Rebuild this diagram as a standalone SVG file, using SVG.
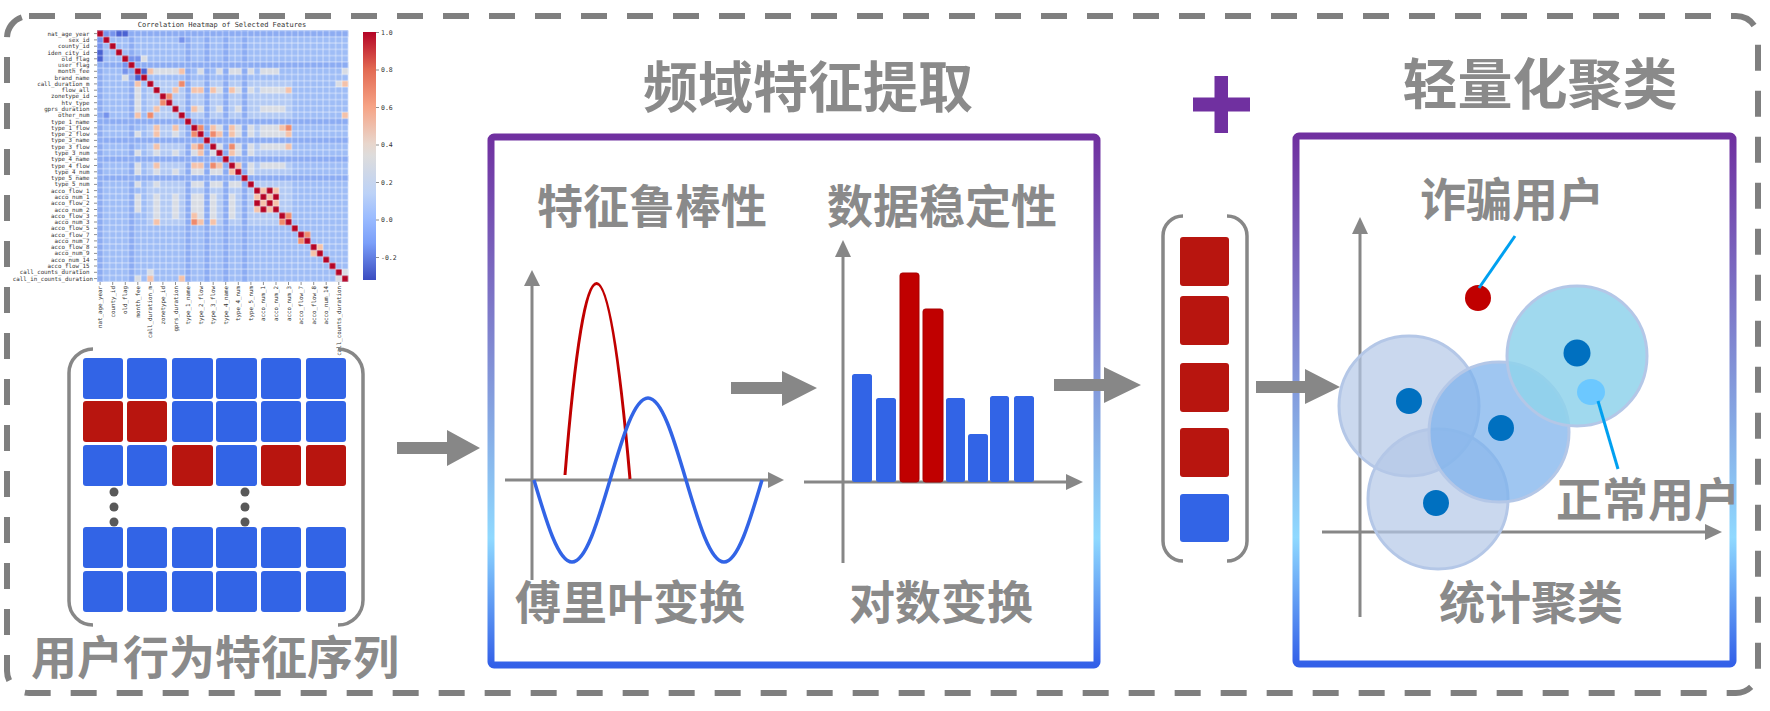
<svg xmlns="http://www.w3.org/2000/svg" xmlns:xlink="http://www.w3.org/1999/xlink" width="1770" height="711" viewBox="0 0 1770 711">
<defs>
<style>
.cjk{font-family:"Noto Sans CJK SC","Noto Sans",sans-serif;font-weight:bold;fill:#8A8A8A;text-anchor:middle}
.h55{font-size:55px}
.h46{font-size:46px}
.mono{font-family:"DejaVu Sans Mono","Liberation Mono",monospace;fill:#333}
.gray{fill:#878787}
.axis{stroke:#878787;stroke-width:3;fill:none}
.blue{fill:#3264E6}
.red{fill:#B8150F}
.box{fill:none;stroke:url(#boxg);stroke-width:7}
.brk{fill:none;stroke:#878787;stroke-width:3.5}
.lead{stroke:#00A0F0;stroke-width:3;fill:none}
.cl{stroke:#B4C7E7;stroke-width:3}
.dot{fill:#0070C0}
</style>
<linearGradient id="boxg" x1="0" y1="0" x2="0" y2="1">
<stop offset="0" stop-color="#7030A0"/>
<stop offset="0.76" stop-color="#8FD9FF"/>
<stop offset="1" stop-color="#3360E8"/>
</linearGradient>
<linearGradient id="cbg" x1="0" y1="0" x2="0" y2="1">
<stop offset="0" stop-color="#B40426"/>
<stop offset="0.15" stop-color="#E26952"/>
<stop offset="0.3" stop-color="#F6A385"/>
<stop offset="0.45" stop-color="#E8D6CC"/>
<stop offset="0.5" stop-color="#DDDCDC"/>
<stop offset="0.65" stop-color="#BCD2F7"/>
<stop offset="0.75" stop-color="#9ABBFF"/>
<stop offset="0.85" stop-color="#7B9FF9"/>
<stop offset="1" stop-color="#3B4CC0"/>
</linearGradient>
<pattern id="hmgrid" width="1" height="1" patternUnits="userSpaceOnUse">
<rect width="1" height="1" fill="none" stroke="#ffffff" stroke-opacity="0.8" stroke-width="0.1"/>
</pattern>
<g id="hmU">
<path fill="#D8DCE4" d="M7 4h1v1h-1z M9 6h4v1h-4z M16 6h1v1h-1z M19 6h1v1h-1z M21 6h2v1h-2z M24 6h1v1h-1z M26 6h3v1h-3z M39 6h1v1h-1z M38 8h1v1h-1z M19 9h1v1h-1z M22 9h1v1h-1z M24 9h1v1h-1z M26 9h4v1h-4z M16 12h1v1h-1z M19 12h1v1h-1z M22 12h1v1h-1z M26 12h4v1h-4z M19 15h1v1h-1z M22 15h1v1h-1z M24 15h1v1h-1z M26 15h3v1h-3z M22 16h1v1h-1z M24 16h1v1h-1z M26 16h4v1h-4z M19 18h1v1h-1z M22 18h1v1h-1z M24 18h1v1h-1z M26 18h4v1h-4z M22 19h1v1h-1z M24 19h1v1h-1z M24 21h1v1h-1z M26 21h4v1h-4z M24 22h1v1h-1z M38 39h1v1h-1z"/>
<path fill="#F4C2AA" d="M8 6h1v1h-1z M13 6h1v1h-1z M39 8h1v1h-1z M12 9h1v1h-1z M15 9h2v1h-2z M18 9h1v1h-1z M21 9h1v1h-1z M30 9h1v1h-1z M15 12h1v1h-1z M39 13h1v1h-1z M18 15h1v1h-1z M21 15h1v1h-1z M29 15h1v1h-1z M21 16h1v1h-1z M19 16h1v1h-1z M30 16h1v1h-1z M30 18h1v1h-1z M21 19h1v1h-1z M22 21h1v1h-1z M26 25h1v1h-1z M28 25h1v1h-1z M27 26h1v1h-1z M28 27h1v1h-1z M35 34h1v1h-1z"/>
<path fill="#EE8A6C" d="M13 8h1v1h-1z M11 10h1v1h-1z M16 15h1v1h-1z M18 16h1v1h-1z M21 18h1v1h-1z M30 15h1v1h-1z M30 29h1v1h-1z M33 32h1v1h-1z"/>
<path fill="#B40426" d="M27 25h1v1h-1z M28 26h1v1h-1z"/>
<path fill="#4A62D2" d="M3 0h2v1h-2z M7 6h1v1h-1z"/>
<path fill="#7693EC" d="M1 0h2v1h-2z M5 4h2v1h-2z M13 1h1v1h-1z"/>
</g>
</defs>
<rect width="1770" height="711" fill="#ffffff"/>

<!-- outer dashed frame -->
<rect x="7" y="16" width="1751" height="677" rx="22" fill="none" stroke="#7F7F7F" stroke-width="6" stroke-dasharray="26 20"/>

<!-- heatmap -->
<g id="heatmap">
<text class="mono" x="222" y="27" font-size="7" text-anchor="middle">Correlation Heatmap of Selected Features</text>
<g transform="translate(97,30.5) scale(6.28)">
<rect width="40" height="40" fill="#9FBDF6"/>
<rect x="0" y="0" width="1" height="40" fill="#8DACF2"/>
<rect x="0" y="0" width="40" height="1" fill="#8DACF2"/>
<rect x="8" y="8" width="23" height="23" fill="#B3CAF4"/>
<path fill="#8CACF3" d="M0 5h40v1h-40z M0 14h40v1h-40z M0 17h40v1h-40z M0 20h40v1h-40z M0 23h40v1h-40z M5 0h1v40h-1z M14 0h1v40h-1z M17 0h1v40h-1z M20 0h1v40h-1z M23 0h1v40h-1z"/>
<use xlink:href="#hmU"/>
<use xlink:href="#hmU" transform="matrix(0 1 1 0 0 0)"/>
<path fill="#B40426" d="M0 0h1v1h-1z M1 1h1v1h-1z M2 2h1v1h-1z M3 3h1v1h-1z M4 4h1v1h-1z M5 5h1v1h-1z M6 6h1v1h-1z M7 7h1v1h-1z M8 8h1v1h-1z M9 9h1v1h-1z M10 10h1v1h-1z M11 11h1v1h-1z M12 12h1v1h-1z M13 13h1v1h-1z M14 14h1v1h-1z M15 15h1v1h-1z M16 16h1v1h-1z M17 17h1v1h-1z M18 18h1v1h-1z M19 19h1v1h-1z M20 20h1v1h-1z M21 21h1v1h-1z M22 22h1v1h-1z M23 23h1v1h-1z M24 24h1v1h-1z M25 25h1v1h-1z M26 26h1v1h-1z M27 27h1v1h-1z M28 28h1v1h-1z M29 29h1v1h-1z M30 30h1v1h-1z M31 31h1v1h-1z M32 32h1v1h-1z M33 33h1v1h-1z M34 34h1v1h-1z M35 35h1v1h-1z M36 36h1v1h-1z M37 37h1v1h-1z M38 38h1v1h-1z M39 39h1v1h-1z"/>
<rect width="40" height="40" fill="url(#hmgrid)"/>
</g>
<path stroke="#444" stroke-width="0.6" d="M94 33.6h3M94 39.9h3M94 46.2h3M94 52.5h3M94 58.8h3M94 65h3M94 71.3h3M94 77.6h3M94 83.9h3M94 90.2h3M94 96.4h3M94 102.7h3M94 109h3M94 115.3h3M94 121.6h3M94 127.8h3M94 134.1h3M94 140.4h3M94 146.7h3M94 153h3M94 159.2h3M94 165.5h3M94 171.8h3M94 178.1h3M94 184.4h3M94 190.6h3M94 196.9h3M94 203.2h3M94 209.5h3M94 215.8h3M94 222h3M94 228.3h3M94 234.6h3M94 240.9h3M94 247.2h3M94 253.4h3M94 259.7h3M94 266h3M94 272.3h3M94 278.6h3"/>
<text class="mono" font-size="5.8" text-anchor="end">
<tspan x="93" y="35.6">nat_age_year</tspan>
<tspan x="93" y="41.9">sex_id</tspan>
<tspan x="93" y="48.2">county_id</tspan>
<tspan x="93" y="54.5">iden_city_id</tspan>
<tspan x="93" y="60.8">old_flag</tspan>
<tspan x="93" y="67.0">user_flag</tspan>
<tspan x="93" y="73.3">month_fee</tspan>
<tspan x="93" y="79.6">brand_name</tspan>
<tspan x="93" y="85.9">call_duration_m</tspan>
<tspan x="93" y="92.2">flow_all</tspan>
<tspan x="93" y="98.4">zonetype_id</tspan>
<tspan x="93" y="104.7">htv_type</tspan>
<tspan x="93" y="111.0">gprs_duration</tspan>
<tspan x="93" y="117.3">other_num</tspan>
<tspan x="93" y="123.6">type_1_name</tspan>
<tspan x="93" y="129.8">type_1_flow</tspan>
<tspan x="93" y="136.1">type_2_flow</tspan>
<tspan x="93" y="142.4">type_3_name</tspan>
<tspan x="93" y="148.7">type_3_flow</tspan>
<tspan x="93" y="155.0">type_3_num</tspan>
<tspan x="93" y="161.2">type_4_name</tspan>
<tspan x="93" y="167.5">type_4_flow</tspan>
<tspan x="93" y="173.8">type_4_num</tspan>
<tspan x="93" y="180.1">type_5_name</tspan>
<tspan x="93" y="186.4">type_5_num</tspan>
<tspan x="93" y="192.6">acco_flow_1</tspan>
<tspan x="93" y="198.9">acco_num_1</tspan>
<tspan x="93" y="205.2">acco_flow_2</tspan>
<tspan x="93" y="211.5">acco_num_2</tspan>
<tspan x="93" y="217.8">acco_flow_3</tspan>
<tspan x="93" y="224.0">acco_num_3</tspan>
<tspan x="93" y="230.3">acco_flow_5</tspan>
<tspan x="93" y="236.6">acco_flow_7</tspan>
<tspan x="93" y="242.9">acco_num_7</tspan>
<tspan x="93" y="249.2">acco_flow_8</tspan>
<tspan x="93" y="255.4">acco_num_9</tspan>
<tspan x="93" y="261.7">acco_num_14</tspan>
<tspan x="93" y="268.0">acco_flow_15</tspan>
<tspan x="93" y="274.3">call_counts_duration</tspan>
<tspan x="93" y="280.6">call_in_counts_duration</tspan>
</text>
<path stroke="#444" stroke-width="0.6" d="M100.1 282v3M112.7 282v3M125.3 282v3M137.8 282v3M150.4 282v3M162.9 282v3M175.5 282v3M188.1 282v3M200.6 282v3M213.2 282v3M225.7 282v3M238.3 282v3M250.9 282v3M263.4 282v3M276 282v3M288.5 282v3M301.1 282v3M313.7 282v3M326.2 282v3M338.8 282v3"/>
<g class="mono" font-size="5.8" text-anchor="end">
<text transform="translate(102.1,286) rotate(-90)">nat_age_year</text>
<text transform="translate(114.7,286) rotate(-90)">county_id</text>
<text transform="translate(127.3,286) rotate(-90)">old_flag</text>
<text transform="translate(139.8,286) rotate(-90)">month_fee</text>
<text transform="translate(152.4,286) rotate(-90)">call_duration_m</text>
<text transform="translate(164.9,286) rotate(-90)">zonetype_id</text>
<text transform="translate(177.5,286) rotate(-90)">gprs_duration</text>
<text transform="translate(190.1,286) rotate(-90)">type_1_name</text>
<text transform="translate(202.6,286) rotate(-90)">type_2_flow</text>
<text transform="translate(215.2,286) rotate(-90)">type_3_flow</text>
<text transform="translate(227.7,286) rotate(-90)">type_4_name</text>
<text transform="translate(240.3,286) rotate(-90)">type_4_num</text>
<text transform="translate(252.9,286) rotate(-90)">type_5_num</text>
<text transform="translate(265.4,286) rotate(-90)">acco_num_1</text>
<text transform="translate(278,286) rotate(-90)">acco_num_2</text>
<text transform="translate(290.5,286) rotate(-90)">acco_num_3</text>
<text transform="translate(303.1,286) rotate(-90)">acco_flow_7</text>
<text transform="translate(315.7,286) rotate(-90)">acco_flow_8</text>
<text transform="translate(328.2,286) rotate(-90)">acco_num_14</text>
<text transform="translate(340.8,286) rotate(-90)">call_counts_duration</text>
</g>
<rect x="363" y="32" width="13" height="248" fill="url(#cbg)"/>
<path stroke="#444" stroke-width="0.6" d="M376 32.5h3M376 70h3M376 107.5h3M376 145h3M376 182.5h3M376 220h3M376 257.5h3"/>
<g class="mono" font-size="6.5">
<text x="381" y="34.8">1.0</text>
<text x="381" y="72.3">0.8</text>
<text x="381" y="109.8">0.6</text>
<text x="381" y="147.3">0.4</text>
<text x="381" y="184.8">0.2</text>
<text x="381" y="222.3">0.0</text>
<text x="381" y="259.8">-0.2</text>
</g>
</g>

<!-- behaviour matrix -->
<g id="matrix">
<path class="brk" d="M93 349A24 24 0 0 0 69 373V601A24 24 0 0 0 93 625"/>
<path class="brk" d="M338 349A25 25 0 0 1 363 374V600A25 25 0 0 1 338 625"/>
<g class="blue">
<rect x="83" y="358" width="40" height="41" rx="3"/><rect x="127" y="358" width="40" height="41" rx="3"/><rect x="172" y="358" width="41" height="41" rx="3"/><rect x="216" y="358" width="41" height="41" rx="3"/><rect x="261" y="358" width="40" height="41" rx="3"/><rect x="306" y="358" width="40" height="41" rx="3"/>
<rect x="172" y="401" width="41" height="41" rx="3"/><rect x="216" y="401" width="41" height="41" rx="3"/><rect x="261" y="401" width="40" height="41" rx="3"/><rect x="306" y="401" width="40" height="41" rx="3"/>
<rect x="83" y="445" width="40" height="41" rx="3"/><rect x="127" y="445" width="40" height="41" rx="3"/><rect x="216" y="445" width="41" height="41" rx="3"/>
<rect x="83" y="527" width="40" height="41" rx="3"/><rect x="127" y="527" width="40" height="41" rx="3"/><rect x="172" y="527" width="41" height="41" rx="3"/><rect x="216" y="527" width="41" height="41" rx="3"/><rect x="261" y="527" width="40" height="41" rx="3"/><rect x="306" y="527" width="40" height="41" rx="3"/>
<rect x="83" y="571" width="40" height="41" rx="3"/><rect x="127" y="571" width="40" height="41" rx="3"/><rect x="172" y="571" width="41" height="41" rx="3"/><rect x="216" y="571" width="41" height="41" rx="3"/><rect x="261" y="571" width="40" height="41" rx="3"/><rect x="306" y="571" width="40" height="41" rx="3"/>
</g>
<g class="red">
<rect x="83" y="401" width="40" height="41" rx="3"/><rect x="127" y="401" width="40" height="41" rx="3"/>
<rect x="172" y="445" width="41" height="41" rx="3"/><rect x="261" y="445" width="40" height="41" rx="3"/><rect x="306" y="445" width="40" height="41" rx="3"/>
</g>
<g fill="#595959">
<circle cx="114" cy="492" r="4.5"/><circle cx="114" cy="507" r="4.5"/><circle cx="114" cy="522" r="4.5"/>
<circle cx="245" cy="492" r="4.5"/><circle cx="245" cy="507" r="4.5"/><circle cx="245" cy="522" r="4.5"/>
</g>
<text class="cjk h46" x="215" y="674">用户行为特征序列</text>
</g>

<!-- frequency-domain feature extraction -->
<g id="freq-extraction">
<text class="cjk h55" x="808" y="107">频域特征提取</text>
<rect class="box" x="491" y="137" width="606" height="528" rx="3"/>
<text class="cjk h46" x="652" y="223">特征鲁棒性</text>
<text class="cjk h46" x="942" y="223">数据稳定性</text>
<path class="axis" d="M532 284V580"/>
<path class="gray" d="M524 286L532 270L540 286Z"/>
<path class="axis" d="M505 480H770"/>
<path class="gray" d="M768 472L784 480L768 488Z"/>
<path d="M565 475Q596 90 630 479" fill="none" stroke="#C00000" stroke-width="3"/>
<path d="M534 480C546.4 522 558.25 562 572 562C585.75 562 597.6 522 610 480C622.4 438 634.25 398 648 398C661.75 398 673.6 438 686 480C698.4 522 710.25 562 724 562C737.75 562 749.6 522 762 480" fill="none" stroke="#3264E6" stroke-width="3.5"/>
<path class="axis" d="M843 255V563"/>
<path class="gray" d="M835 257L843 240L851 257Z"/>
<path class="axis" d="M804 482H1068"/>
<path class="gray" d="M1066 474L1083 482L1066 490Z"/>
<rect class="blue" x="852" y="374" width="20" height="108" rx="2.5"/>
<rect class="blue" x="876" y="398" width="20" height="84" rx="2.5"/>
<rect x="900" y="273" width="19" height="209" rx="2.5" fill="#C00000" stroke="#A80000" stroke-width="1"/>
<rect x="923" y="309" width="20" height="173" rx="2.5" fill="#C00000" stroke="#A80000" stroke-width="1"/>
<rect class="blue" x="946" y="398" width="19" height="84" rx="2.5"/>
<rect class="blue" x="968" y="434" width="20" height="48" rx="2.5"/>
<rect class="blue" x="990" y="396" width="19" height="86" rx="2.5"/>
<rect class="blue" x="1014" y="396" width="20" height="86" rx="2.5"/>
<text class="cjk h46" x="630" y="619">傅里叶变换</text>
<text class="cjk h46" x="941" y="619">对数变换</text>
</g>

<!-- feature vector -->
<g id="feature-vector">
<path class="brk" d="M1183 216A20 20 0 0 0 1163 236V541A20 20 0 0 0 1183 561"/>
<path class="brk" d="M1227 216A20 20 0 0 1 1247 236V541A20 20 0 0 1 1227 561"/>
<rect class="red" x="1180" y="237" width="49" height="49" rx="3"/>
<rect class="red" x="1180" y="296" width="49" height="49" rx="3"/>
<rect class="red" x="1180" y="363" width="49" height="49" rx="3"/>
<rect class="red" x="1180" y="428" width="49" height="49" rx="3"/>
<rect class="blue" x="1180" y="494" width="49" height="48" rx="3"/>
</g>

<!-- plus sign -->
<g id="plus" fill="#7030A0">
<rect x="1214.5" y="76" width="13.5" height="57"/>
<rect x="1193" y="97.5" width="57" height="14"/>
</g>

<!-- lightweight clustering -->
<g id="clustering">
<text class="cjk h55" x="1540" y="104">轻量化聚类</text>
<rect class="box" x="1296" y="136" width="437" height="528" rx="3"/>
<text class="cjk h46" x="1512" y="216">诈骗用户</text>
<path class="axis" d="M1360 232V617"/>
<path class="gray" d="M1352 234L1360 217L1368 234Z"/>
<path class="axis" d="M1322 532H1707"/>
<path class="gray" d="M1705 524L1722 532L1705 540Z"/>
<circle class="cl" cx="1409" cy="406" r="70" fill="#B4C7E7" fill-opacity="0.7"/>
<circle class="cl" cx="1438" cy="499" r="70" fill="#B4C7E7" fill-opacity="0.7"/>
<circle class="cl" cx="1499" cy="432" r="70" fill="#7FB3EC" fill-opacity="0.75"/>
<circle class="cl" cx="1577" cy="356" r="70" fill="#8FD2EB" fill-opacity="0.85"/>
<circle class="dot" cx="1409" cy="401" r="13"/>
<circle class="dot" cx="1436" cy="503" r="13"/>
<circle class="dot" cx="1501" cy="428" r="13"/>
<circle class="dot" cx="1577" cy="353" r="13.5"/>
<ellipse cx="1591" cy="392" rx="14" ry="13" fill="#6CC8FF"/>
<circle cx="1478" cy="298" r="13" fill="#C00000"/>
<path class="lead" d="M1479 288L1515 236"/>
<path class="lead" d="M1598 401L1618 469"/>
<text class="cjk h46" x="1648" y="516">正常用户</text>
<text class="cjk h46" x="1531" y="619">统计聚类</text>
</g>

<!-- connectors -->
<g id="connectors" class="gray">
<path d="M397 442H447V430L480 448L447 466V454H397Z"/>
<path d="M731 382H782V371L817 388L782 406V394H731Z"/>
<path d="M1054 379H1104V367L1141 385L1104 403V391H1054Z"/>
<path d="M1256 381H1305V369L1340 387L1305 404V393H1256Z"/>
</g>
</svg>
